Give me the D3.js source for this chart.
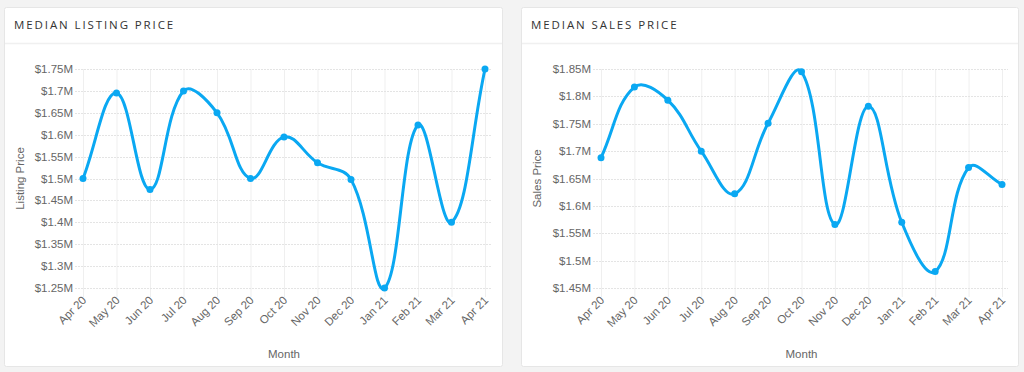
<!DOCTYPE html>
<head>
    <meta charset="utf-8">
</head>
<style>
    body {
        margin: 0;
        background: #f3f3f3;
    }
    svg {
        display: block;
    }
    .card-title {
        font: 500 11.5px "Open Sans", sans-serif;
        letter-spacing: 1.9px;
        fill: #333;
    }
    .tick-label {
        font: 11.5px "Liberation Sans", Arial, sans-serif;
        fill: #666;
    }
    .axis-title {
        font: 11.5px "Liberation Sans", Arial, sans-serif;
        fill: #666;
    }
</style>

<svg width="1024" height="372" id="charts"></svg>

<script src="https://cdn.jsdelivr.net/npm/d3@7"></script>
<script>

    var months = ["Apr 20", "May 20", "Jun 20", "Jul 20", "Aug 20", "Sep 20", "Oct 20",
        "Nov 20", "Dec 20", "Jan 21", "Feb 21", "Mar 21", "Apr 21"];

    // values in $M
    var listingPrice = [1.5, 1.695, 1.475, 1.7, 1.65, 1.5, 1.595, 1.536, 1.498, 1.25, 1.622, 1.4, 1.75];
    var salesPrice = [1.688, 1.817, 1.793, 1.70, 1.622, 1.751, 1.845, 1.566, 1.782, 1.570, 1.48, 1.670, 1.639];

    var listingTicks = [1.25, 1.3, 1.35, 1.4, 1.45, 1.5, 1.55, 1.6, 1.65, 1.7, 1.75];
    var salesTicks = [1.45, 1.5, 1.55, 1.6, 1.65, 1.7, 1.75, 1.8, 1.85];

    var svg = d3.select("#charts");

    // chart.js style spline (tension 0.4)
    function splinePath(pts, t) {
        var ctrl = pts.map(function (p, i) {
            var prev = i > 0 ? pts[i - 1] : p;
            var next = i < pts.length - 1 ? pts[i + 1] : p;
            var d01 = Math.hypot(p[0] - prev[0], p[1] - prev[1]);
            var d12 = Math.hypot(next[0] - p[0], next[1] - p[1]);
            var s01 = d01 / (d01 + d12) || 0;
            var s12 = d12 / (d01 + d12) || 0;
            var fa = t * s01, fb = t * s12;
            return {
                prev: [p[0] - fa * (next[0] - prev[0]), p[1] - fa * (next[1] - prev[1])],
                next: [p[0] + fb * (next[0] - prev[0]), p[1] + fb * (next[1] - prev[1])]
            };
        });
        var path = d3.path();
        path.moveTo(pts[0][0], pts[0][1]);
        for (var i = 1; i < pts.length; i++) {
            var c1 = ctrl[i - 1].next, c2 = ctrl[i].prev;
            path.bezierCurveTo(c1[0], c1[1], c2[0], c2[1], pts[i][0], pts[i][1]);
        }
        return path.toString();
    }

    function drawCard(opt) {
        var card = svg.append("g");

        card.append("rect")
            .attr("x", opt.cardX + 0.5)
            .attr("y", 7.5)
            .attr("width", opt.cardW)
            .attr("height", 359)
            .attr("rx", 2)
            .attr("fill", "#fff")
            .attr("stroke", "#e6e6e6");

        card.append("line")
            .attr("x1", opt.cardX + 1)
            .attr("x2", opt.cardX + opt.cardW)
            .attr("y1", 43.5)
            .attr("y2", 43.5)
            .attr("stroke", "#f0f0f0")
            .attr("stroke-width", 1.5);

        card.append("text")
            .attr("class", "card-title")
            .attr("x", opt.cardX + 10)
            .attr("y", 29)
            .text(opt.title);

        var x = d3.scalePoint()
            .domain(months)
            .range([opt.x0, opt.x1]);

        var y = d3.scaleLinear()
            .domain(d3.extent(opt.ticks))
            .range([288, 69]);

        var fmt = function (d) {
            return "$" + (+d.toFixed(2)) + "M";
        };

        // vertical grid
        card.append("g")
            .selectAll("line")
            .data(months)
            .enter().append("line")
            .attr("x1", function (d) { return x(d) + 0.5; })
            .attr("x2", function (d) { return x(d) + 0.5; })
            .attr("y1", 69)
            .attr("y2", 297)
            .attr("stroke", "#efefef");

        // horizontal grid
        card.append("g")
            .selectAll("line")
            .data(opt.ticks)
            .enter().append("line")
            .attr("x1", opt.x0 - 8)
            .attr("x2", opt.x1 + 6)
            .attr("y1", function (d) { return Math.round(y(d)) + 0.5; })
            .attr("y2", function (d) { return Math.round(y(d)) + 0.5; })
            .attr("stroke", "#e4e4e4")
            .attr("stroke-dasharray", "2,1");

        // y labels
        card.append("g")
            .selectAll("text")
            .data(opt.ticks)
            .enter().append("text")
            .attr("class", "tick-label")
            .attr("x", opt.x0 - 10)
            .attr("y", function (d) { return y(d) + 4; })
            .attr("text-anchor", "end")
            .text(fmt);

        // x labels
        card.append("g")
            .selectAll("text")
            .data(months)
            .enter().append("text")
            .attr("class", "tick-label")
            .attr("text-anchor", "end")
            .attr("transform", function (d) {
                return "translate(" + (x(d) + 4) + ",301) rotate(-45)";
            })
            .text(function (d) { return d; });

        card.append("text")
            .attr("class", "axis-title")
            .attr("text-anchor", "middle")
            .attr("x", (opt.x0 + opt.x1) / 2)
            .attr("y", 358)
            .text("Month");

        card.append("text")
            .attr("class", "axis-title")
            .attr("text-anchor", "middle")
            .attr("transform", "translate(" + opt.yTitleX + ",178.5) rotate(-90)")
            .text(opt.yTitle);

        var pts = opt.values.map(function (v, i) {
            return [x(months[i]), y(v)];
        });

        card.append("path")
            .attr("d", splinePath(pts, 0.4))
            .attr("fill", "none")
            .attr("stroke", "#0aa8f2")
            .attr("stroke-width", 3);

        card.append("g")
            .selectAll("circle")
            .data(pts)
            .enter().append("circle")
            .attr("cx", function (d) { return d[0]; })
            .attr("cy", function (d) { return d[1]; })
            .attr("r", 3.5)
            .attr("fill", "#0aa8f2");
    }

    drawCard({
        title: "MEDIAN LISTING PRICE",
        cardX: 4, cardW: 498,
        x0: 83, x1: 485,
        ticks: listingTicks,
        values: listingPrice,
        yTitle: "Listing Price",
        yTitleX: 24
    });

    drawCard({
        title: "MEDIAN SALES PRICE",
        cardX: 521, cardW: 497,
        x0: 601, x1: 1002,
        ticks: salesTicks,
        values: salesPrice,
        yTitle: "Sales Price",
        yTitleX: 541
    });

</script>
